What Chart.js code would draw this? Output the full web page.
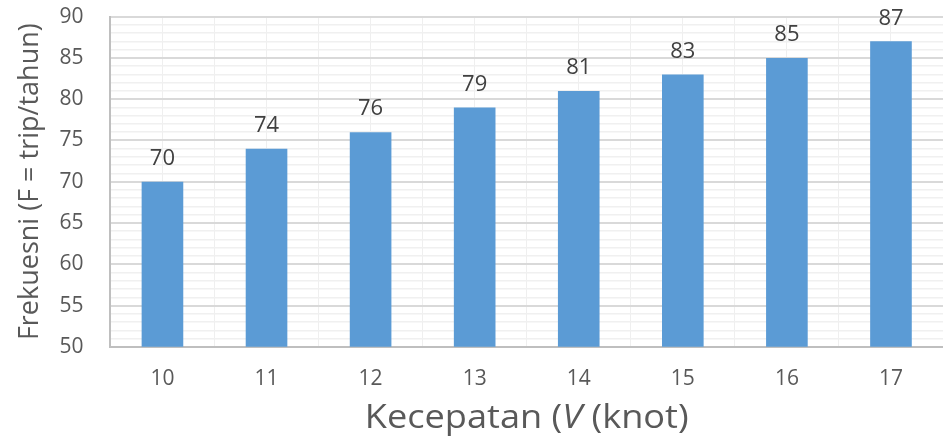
<!DOCTYPE html>
<html lang="id">
<head>
    <meta charset="UTF-8">
    <title>Frekuensi vs Kecepatan</title>
    <style>
        body { margin: 0; background: #fff; }
        #wrap { width: 943px; height: 440px; }
    </style>
</head>
<body>
    <div id="wrap">
        <canvas id="myChart"></canvas>
    </div>

    <script src="https://cdn.jsdelivr.net/npm/chart.js"></script>
    <script>
        // data
        const kecepatan = ['10', '11', '12', '13', '14', '15', '16', '17'];
        const frekuensi = [70, 74, 76, 79, 81, 83, 85, 87];
        const yMin = 50;
        const yMax = 90;

        const abu = '#595959';
        const font = 'Open Sans';

        // label angka di atas batang
        const labelNilai = {
            id: 'labelNilai',
            afterDatasetsDraw(chart) {
                const c = chart.ctx;
                const meta = chart.getDatasetMeta(0);
                c.save();
                c.fillStyle = '#404040';
                c.font = '22px "' + font + '"';
                c.textAlign = 'center';
                c.textBaseline = 'bottom';
                meta.data.forEach((bar, i) => {
                    c.fillText(chart.data.datasets[0].data[i], bar.x, bar.y - 12);
                });
                c.restore();
            }
        };

        // judul sumbu x, dengan V miring (gambar asli agak melebar)
        const judulX = {
            id: 'judulX',
            afterDraw(chart) {
                const c = chart.ctx;
                const parts = [
                    ['Kecepatan (', ''],
                    ['V', 'italic '],
                    [' (knot)', '']
                ];
                const sx = 1.13;
                c.save();
                c.fillStyle = abu;
                c.textBaseline = 'middle';
                let total = 0;
                parts.forEach(p => {
                    c.font = p[1] + '32px "' + font + '"';
                    total += c.measureText(p[0]).width;
                });
                const area = chart.chartArea;
                const cx = (area.left + area.right) / 2;
                c.translate(cx, chart.height - 21);
                c.scale(sx, 1);
                let x = -total / 2;
                parts.forEach(p => {
                    c.font = p[1] + '32px "' + font + '"';
                    c.fillText(p[0], x, 0);
                    x += c.measureText(p[0]).width;
                });
                c.restore();
            }
        };

        new Chart(document.getElementById('myChart'), {
            type: 'bar',
            data: {
                labels: kecepatan,
                datasets: [{
                    data: frekuensi,
                    backgroundColor: '#5b9bd5',
                    barPercentage: 0.4,
                    categoryPercentage: 1
                }]
            },
            options: {
                responsive: true,
                maintainAspectRatio: false,
                animation: false,
                layout: { padding: { top: 0, right: -4, left: 14, bottom: 28 } },
                plugins: {
                    legend: { display: false },
                    tooltip: { enabled: false }
                },
                scales: {
                    x: {
                        weight: 0,
                        offset: true,
                        grid: { offset: true, color: '#efefef', drawTicks: false },
                        border: { color: '#bfbfbf', width: 2 },
                        ticks: { color: abu, font: { family: font, size: 21 }, padding: 20 }
                    },
                    x2: {
                        weight: 1,
                        position: 'bottom',
                        offset: true,
                        grid: { offset: false, color: '#efefef', drawTicks: false },
                        border: { display: false },
                        ticks: { display: false }
                    },
                    y: {
                        min: yMin,
                        max: yMax,
                        grid: {
                            color: (ctx) => ctx.tick && ctx.tick.value % 5 === 0 ? '#d9d9d9' : '#f0f0f0',
                            lineWidth: (ctx) => ctx.tick && ctx.tick.value % 5 === 0 ? 2 : 1.5,
                            drawTicks: true,
                            tickLength: 23,
                            tickColor: 'rgba(0,0,0,0)'
                        },
                        border: { color: '#bfbfbf', width: 2 },
                        ticks: {
                            stepSize: 1,
                            autoSkip: false,
                            maxTicksLimit: 100,
                            padding: 4,
                            color: abu,
                            font: { family: font, size: 21 },
                            callback: (v) => v % 5 === 0 ? v : ''
                        },
                        title: {
                            display: true,
                            text: 'Frekuesni (F = trip/tahun)',
                            color: abu,
                            font: { family: font, size: 27 },
                            padding: { top: 0, bottom: 9 }
                        }
                    }
                }
            },
            plugins: [labelNilai, judulX]
        });
    </script>
</body>
</html>
